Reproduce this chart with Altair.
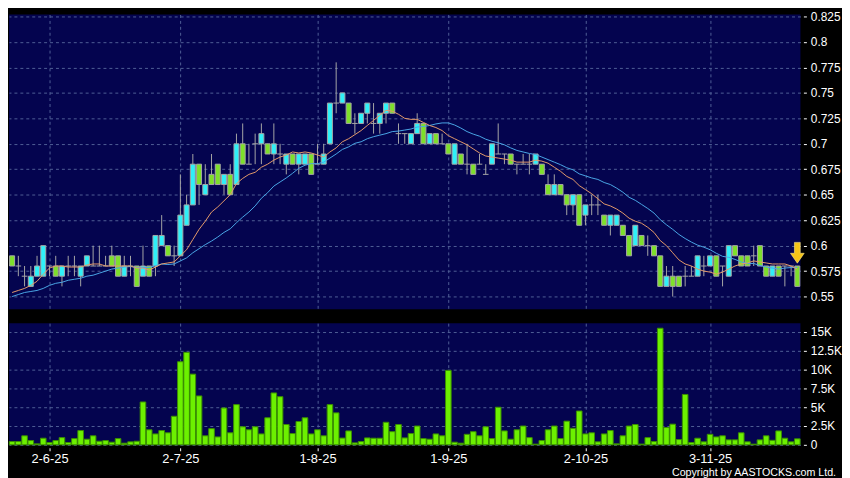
import altair as alt
import numpy as np
import pandas as pd

# ---------------- data ----------------
opens = [0.59,0.58,0.57,0.56,0.57,0.57,0.58,0.58,0.57,0.58,
         0.58,0.57,0.58,0.58,0.58,0.58,0.59,0.59,0.57,0.58,
         0.58,0.57,0.58,0.58,0.60,0.60,0.59,0.59,0.62,0.64,
         0.68,0.65,0.67,0.68,0.66,0.67,0.66,0.70,0.68,0.70,
         0.70,0.70,0.69,0.69,0.68,0.69,0.68,0.68,0.69,0.68,
         0.68,0.70,0.74,0.74,0.74,0.72,0.72,0.73,0.72,0.72,
         0.73,0.74,0.71,0.71,0.70,0.71,0.72,0.70,0.71,0.70,
         0.70,0.68,0.69,0.68,0.68,0.68,0.67,0.68,0.69,0.69,
         0.69,0.68,0.68,0.68,0.68,0.68,0.66,0.65,0.66,0.65,
         0.64,0.65,0.63,0.64,0.64,0.63,0.62,0.62,0.62,0.61,
         0.60,0.61,0.60,0.60,0.59,0.56,0.57,0.57,0.57,0.57,
         0.57,0.58,0.58,0.59,0.58,0.57,0.60,0.59,0.59,0.59,
         0.60,0.58,0.57,0.58,0.58,0.58,0.58]
highs = [0.59,0.59,0.58,0.58,0.59,0.60,0.58,0.59,0.58,0.59,
         0.59,0.58,0.59,0.60,0.60,0.59,0.60,0.59,0.59,0.59,
         0.58,0.60,0.58,0.61,0.63,0.60,0.60,0.67,0.65,0.69,
         0.68,0.68,0.69,0.68,0.67,0.68,0.71,0.72,0.70,0.71,
         0.72,0.70,0.72,0.70,0.69,0.69,0.69,0.69,0.69,0.70,
         0.70,0.74,0.78,0.75,0.74,0.73,0.73,0.74,0.74,0.73,
         0.74,0.74,0.72,0.71,0.71,0.73,0.72,0.71,0.71,0.71,
         0.70,0.70,0.69,0.70,0.68,0.69,0.68,0.70,0.72,0.69,
         0.69,0.68,0.69,0.69,0.69,0.68,0.67,0.67,0.66,0.65,
         0.65,0.65,0.64,0.65,0.65,0.63,0.63,0.63,0.62,0.61,
         0.62,0.61,0.61,0.60,0.59,0.58,0.58,0.57,0.58,0.58,
         0.59,0.59,0.59,0.59,0.58,0.60,0.60,0.59,0.59,0.60,
         0.60,0.58,0.58,0.58,0.58,0.58,0.58]
lows = [0.58,0.57,0.56,0.56,0.57,0.57,0.57,0.57,0.56,0.57,
        0.57,0.56,0.58,0.58,0.58,0.58,0.58,0.57,0.57,0.57,
        0.56,0.57,0.57,0.57,0.60,0.59,0.58,0.59,0.62,0.64,
        0.64,0.65,0.66,0.66,0.65,0.65,0.66,0.68,0.68,0.68,
        0.68,0.69,0.68,0.68,0.67,0.68,0.67,0.68,0.67,0.68,
        0.68,0.70,0.73,0.74,0.72,0.71,0.72,0.72,0.71,0.71,
        0.72,0.73,0.70,0.70,0.70,0.71,0.70,0.70,0.70,0.70,
        0.69,0.68,0.68,0.67,0.67,0.68,0.67,0.68,0.69,0.68,
        0.68,0.67,0.68,0.67,0.68,0.67,0.65,0.65,0.65,0.63,
        0.63,0.62,0.62,0.63,0.63,0.62,0.61,0.62,0.61,0.59,
        0.60,0.60,0.59,0.59,0.56,0.56,0.55,0.56,0.56,0.57,
        0.57,0.57,0.58,0.57,0.56,0.57,0.59,0.58,0.58,0.58,
        0.58,0.57,0.57,0.57,0.56,0.57,0.56]
closes = [0.58,0.58,0.57,0.57,0.58,0.60,0.58,0.57,0.58,0.58,
          0.58,0.58,0.59,0.58,0.58,0.58,0.58,0.57,0.58,0.58,
          0.56,0.58,0.57,0.61,0.61,0.59,0.59,0.63,0.64,0.68,
          0.66,0.66,0.66,0.66,0.67,0.65,0.70,0.68,0.68,0.70,
          0.71,0.69,0.70,0.69,0.69,0.68,0.69,0.69,0.67,0.68,
          0.69,0.74,0.74,0.75,0.72,0.72,0.73,0.74,0.72,0.73,
          0.74,0.73,0.71,0.71,0.71,0.72,0.70,0.71,0.70,0.70,
          0.69,0.70,0.68,0.68,0.67,0.68,0.67,0.70,0.69,0.69,
          0.68,0.68,0.68,0.68,0.69,0.67,0.65,0.66,0.65,0.64,
          0.65,0.62,0.64,0.64,0.64,0.62,0.63,0.63,0.61,0.59,
          0.62,0.60,0.60,0.59,0.56,0.57,0.56,0.56,0.57,0.57,
          0.59,0.58,0.59,0.57,0.58,0.60,0.59,0.58,0.58,0.59,
          0.58,0.57,0.58,0.57,0.58,0.58,0.56]
volumes = [440,440,1200,570,130,880,300,570,960,300,
           830,1900,750,1200,480,570,350,830,220,400,
           480,5700,2000,1450,1900,1600,3800,11050,12300,9400,
           6500,1200,2150,1050,4900,1600,5350,2400,2000,2400,
           1450,3600,6900,6400,2700,1500,3100,3600,1450,2000,
           1200,5350,4250,900,1850,260,440,920,880,880,
           3000,1750,2700,920,1500,2500,830,750,1450,1200,
           9900,350,220,1400,1750,1200,2400,830,5000,1850,
           750,2000,2500,960,90,570,2000,2500,830,3150,
           2200,4500,1450,1600,400,1450,1900,130,1200,2500,
           2700,100,960,440,15500,2300,2750,700,6700,300,
           880,400,1400,1050,1200,660,660,1600,400,90,
           660,1200,600,1850,880,400,800]

# moving-average values at the very start (before 10 / 20 closes exist)
ma10_head = [0.554,0.556,0.558,0.561,0.565,0.572,0.578,0.580,0.580]
ma20_head = [0.550,0.552,0.554,0.555,0.556,0.558,0.561,0.563,0.564,0.566,
             0.567,0.568,0.570,0.571,0.573,0.575,0.577,0.578,0.579]

date_ticks = [6, 27, 49, 70, 92, 112]
date_labels = ["2-6-25", "2-7-25", "1-8-25", "1-9-25", "2-10-25", "3-11-25"]
price_ticks = [0.55,0.575,0.6,0.625,0.65,0.675,0.7,0.725,0.75,0.775,0.8,0.825]
vol_ticks = [0,2500,5000,7500,10000,12500,15000]
marker_price = [0.593]
copyright = "Copyright by AASTOCKS.com Ltd."

# ---------------- styling ----------------
NAVY = "#04044f"
GRID = "#505f96"
CYAN = "#2ff0f8"
GREEN = "#7ee02a"
EDGE = "#a6a6a6"
VOLFILL = "#6cf000"
VOLEDGE = "#3b8f00"
ORANGE = "#e49a6a"
BLUE = "#4aa6e6"
FONT = "Liberation Sans"

N = len(closes)
df = pd.DataFrame({"i": np.arange(N), "o": opens, "h": highs, "l": lows,
                   "c": closes, "v": volumes})
df["h10"] = ma10_head + [np.nan] * (N - len(ma10_head))
df["h20"] = ma20_head + [np.nan] * (N - len(ma20_head))

xs = alt.Scale(domain=[-0.5, N - 0.5], nice=False, zero=False)
ps = alt.Scale(domain=[0.5375, 0.827], nice=False, zero=False)
vs = alt.Scale(domain=[0, 16180], nice=False, zero=False)

grid_kw = dict(grid=True, gridColor=GRID, gridDash=[3, 3], gridWidth=1, gridOpacity=1)
label_expr = " : ".join(f"datum.value == {v} ? '{s}'" for v, s in zip(date_ticks, date_labels)) + " : ''"

x_top_axis = alt.Axis(values=date_ticks, labels=False, ticks=False, domain=False,
                      title=None, **grid_kw)
y_price_axis = alt.Axis(orient="right", values=price_ticks,
                        labelExpr="format(datum.value, '.3~f')", domain=False,
                        tickColor="white", tickSize=3, offset=3, labelColor="white",
                        labelFont=FONT, labelFontSize=12, labelPadding=4, title=None,
                        labelOverlap=False, labelFlush=False, **grid_kw)
x_bot_axis = alt.Axis(values=date_ticks, labelExpr=label_expr, domain=False,
                      tickColor="white", tickSize=3, offset=3, labelColor="white",
                      labelFont=FONT, labelFontSize=13, labelPadding=2, title=None,
                      labelOverlap=False, labelFlush=False, **grid_kw)
y_vol_axis = alt.Axis(orient="right", values=vol_ticks,
                      labelExpr="datum.value == 0 ? '0' : format(datum.value / 1000, '~g') + 'K'",
                      domain=False, tickColor="white", tickSize=3, offset=3,
                      labelColor="white", labelFont=FONT, labelFontSize=12,
                      labelPadding=4, title=None, labelOverlap=False, labelFlush=False,
                      **grid_kw)


def X(field):
    return alt.X(field, scale=xs, axis=x_top_axis)


def Y(field):
    return alt.Y(field, scale=ps, axis=y_price_axis)


base = alt.Chart(df)

wicks = base.mark_rule(color=EDGE, strokeWidth=1).encode(
    x=X("i:Q"), y=Y("l:Q"), y2="h:Q",
)

bodies = base.transform_calculate(
    x1="datum.i - 0.4", x2="datum.i + 0.4",
    lo="min(datum.o, datum.c)", hi="max(datum.o, datum.c)",
    dir="datum.c > datum.o ? 'up' : (datum.c < datum.o ? 'down' : 'flat')",
).transform_filter("datum.dir != 'flat'").mark_rect(stroke=EDGE, strokeWidth=1).encode(
    x=X("x1:Q"),
    x2="x2:Q",
    y=Y("lo:Q"),
    y2="hi:Q",
    color=alt.Color("dir:N", scale=alt.Scale(domain=["up", "down"], range=[CYAN, GREEN]),
                    legend=None),
)

dojis = base.transform_filter("datum.o == datum.c").transform_calculate(
    x1="datum.i - 0.45", x2="datum.i + 0.45"
).mark_rule(color=EDGE, strokeWidth=1).encode(
    x=X("x1:Q"), x2="x2:Q", y=Y("c:Q")
)

ma10 = base.transform_window(
    m10="mean(c)", frame=[-9, 0], sort=[alt.SortField("i")]
).transform_calculate(ma="isValid(datum.h10) ? datum.h10 : datum.m10").mark_line(
    color=ORANGE, strokeWidth=1
).encode(x=X("i:Q"), y=Y("ma:Q"))

ma20 = base.transform_window(
    m20="mean(c)", frame=[-19, 0], sort=[alt.SortField("i")]
).transform_calculate(ma="isValid(datum.h20) ? datum.h20 : datum.m20").mark_line(
    color=BLUE, strokeWidth=1
).encode(x=X("i:Q"), y=Y("ma:Q"))

marker_df = pd.DataFrame({"i": [N - 1], "p": marker_price})
arrow = alt.Chart(marker_df).mark_point(
    shape="M-0.28,-1L0.28,-1L0.28,0.05L0.66,0.05L0,1L-0.66,0.05L-0.28,0.05Z",
    filled=True, size=441, fill="#f5c518", stroke="#ffe98a", strokeWidth=0.6, opacity=1,
).encode(x=X("i:Q"), y=Y("p:Q"))

top = alt.layer(wicks, bodies, dojis, ma20, ma10, arrow).properties(width=800, height=298)

vbars = base.transform_calculate(x1="datum.i - 0.45", x2="datum.i + 0.45").mark_rect(
    fill=VOLFILL, stroke=VOLEDGE, strokeWidth=1
).encode(
    x=alt.X("x1:Q", scale=xs, axis=x_bot_axis),
    x2="x2:Q",
    y=alt.Y("v:Q", scale=vs, axis=y_vol_axis),
    y2=alt.datum(0),
)

copy_txt = alt.Chart(pd.DataFrame({"t": [copyright]})).mark_text(
    align="right", baseline="middle", color="white",
    font=FONT, fontSize=10.8,
).encode(text="t:N", x=alt.value(836), y=alt.value(151))

bottom = alt.layer(vbars, copy_txt).properties(width=800, height=123)

chart = alt.vconcat(top, bottom, spacing=14).properties(
    background="black",
    padding={"left": 0, "top": 0, "right": 0, "bottom": 0},
).configure_view(fill=NAVY, stroke=None)

chart.save("out.html", embed_options={"renderer": "svg", "actions": False})
